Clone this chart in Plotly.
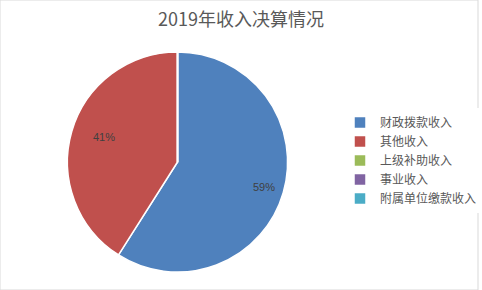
import math
import plotly.graph_objects as go

categories = ["财政拨款收入", "其他收入", "上级补助收入", "事业收入", "附属单位缴款收入"]
values = [59, 41, 0, 0, 0]
colors = ["#4F81BD", "#C0504D", "#9BBB59", "#8064A2", "#4BACC6"]

W, H = 482, 290
dom_x = [68 / W, 290 / W]
dom_y = [(H - 273) / H, (H - 51) / H]

fig = go.Figure(go.Pie(
    labels=categories,
    values=values,
    sort=False,
    direction="clockwise",
    rotation=0,
    marker=dict(colors=colors, line=dict(color="white", width=1.5)),
    textinfo="none",
    domain=dict(x=dom_x, y=dom_y),
    hoverinfo="label+percent",
    showlegend=True,
))

# percentage labels placed at each slice's mid-angle, derived from the data
total = sum(values)
cx_px = (dom_x[0] + dom_x[1]) / 2 * W
cy_px = (1 - (dom_y[0] + dom_y[1]) / 2) * H
R = min((dom_x[1] - dom_x[0]) * W, (dom_y[1] - dom_y[0]) * H) / 2
annotations = []
cum = 0
for v in values:
    if v > 0:
        mid = (cum + v / 2) / total * 2 * math.pi
        x_px = cx_px + 0.82 * R * math.sin(mid)
        y_px = cy_px - 0.82 * R * math.cos(mid)
        annotations.append(dict(
            text=f"{round(v / total * 100)}%", x=x_px / W, y=1 - y_px / H,
            xref="paper", yref="paper", showarrow=False,
            font=dict(family="Liberation Sans, Arial, sans-serif", size=11, color="#404040"),
        ))
    cum += v

fig.update_layout(
    width=W, height=H,
    margin=dict(l=0, r=0, t=0, b=0),
    paper_bgcolor="white",
    plot_bgcolor="white",
    title=dict(text="2019年收入决算情况", x=0.5, xanchor="center", y=1 - 20 / H, yanchor="middle",
               font=dict(family="Noto Sans CJK SC, sans-serif", size=18, color="#595959")),
    legend=dict(x=343 / W, y=1 - 108 / H, xanchor="left", yanchor="top",
                font=dict(family="Noto Sans CJK SC, sans-serif", size=12, color="#595959"),
                itemwidth=30, tracegroupgap=0),
    annotations=annotations,
    shapes=[dict(type="rect", xref="paper", yref="paper", x0=0, y0=0, x1=1, y1=1,
                 line=dict(color="#D9D9D9", width=1))],
)

fig.write_html("out.html")
